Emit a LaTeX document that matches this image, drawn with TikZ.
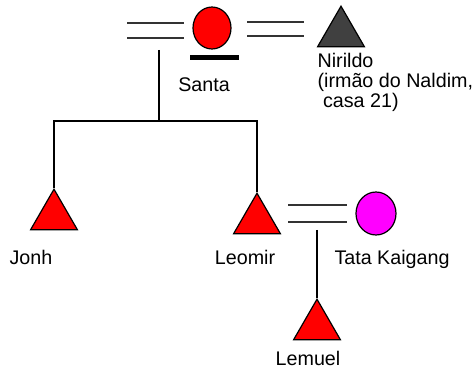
\documentclass[tikz,border=0pt]{standalone}
\usepackage{fontspec}
\setmainfont{Liberation Sans}
\usepackage{tikz}
\usetikzlibrary{shapes.geometric}
\definecolor{pink}{RGB}{255,0,255}
\definecolor{darkfill}{RGB}{64,64,64}

\begin{document}
\begin{tikzpicture}[
            x = 1pt, y = -1pt, % pixel units, y downwards
            line width = 1.2pt, % line style
            font = \fontsize{19.7}{20}\selectfont
        ]
        \tikzstyle{male}=[
            draw = black,
            regular polygon,
            regular polygon sides = 3,
            fill = red,
            minimum size = 54pt,
            inner sep = 0pt,
            anchor = corner 1
        ]
        \tikzstyle{female}=[
            draw = black,
            ellipse,
            inner sep = 0pt
        ]
        \tikzstyle{persname}=[
            inner sep = 0pt,
            anchor = base
        ]
        \tikzstyle{marriage}=[
            draw = black!80,
            line width = 1.6pt
        ]
        \useasboundingbox (0,0) rectangle (476,371);

        % persons
        \node[female, fill = red, minimum width = 38pt, minimum height = 42pt] (santa) at (212,28) {};
        \node[male, fill = darkfill] (nirildo) at (341,5) {};
        \node[male] (jonh) at (54,188) {};
        \node[male] (leomir) at (257,192) {};
        \node[female, fill = pink, minimum width = 40pt, minimum height = 43pt] (tata) at (376,213.5) {};
        \node[male] (lemuel) at (317,298) {};

        % names
        \node[persname] (santaname) at (204,92) {Santa};
        \node[persname, anchor = north west, align = left] (nirildoname) at (317,52.5)
            {Nirildo\\(irmão do Naldim,\\\ casa 21)};
        \node[persname] (jonhname) at (31,265) {Jonh};
        \node[persname] (leomirname) at (245,265) {Leomir};
        \node[persname] (tataname) at (392,265) {Tata Kaigang};
        \node[persname] (lemuelname) at (308,365) {Lemuel};

        % marriage lines
        \coordinate (ma) at (127,23);
        \coordinate (mb) at (184,23);
        \coordinate (mc) at (127,38);
        \coordinate (md) at (184,38);
        \coordinate (me) at (247,22);
        \coordinate (mf) at (304,22);
        \coordinate (mg) at (247,36);
        \coordinate (mh) at (304,36);
        \coordinate (mi) at (288,205);
        \coordinate (mj) at (347,205);
        \coordinate (mk) at (288,222);
        \coordinate (ml) at (347,222);
        \path[marriage] (ma) -- (mb) (mc) -- (md) (me) -- (mf) (mg) -- (mh)
            (mi) -- (mj) (mk) -- (ml);

        % Santa's mourning bar
        \coordinate (ba) at (190,58);
        \coordinate (bb) at (239,58);
        \draw[line width = 5pt] (ba) -- (bb);

        % descent
        \coordinate (top) at (159,50);
        \coordinate (fork) at (159,121);
        \coordinate (child) at (317,230);
        \draw (top) -- (fork);
        \draw (fork) -| (jonh.corner 1);
        \draw (fork) -| (leomir.corner 1);
        \draw (child) -- (lemuel.corner 1);
    \end{tikzpicture}
\end{document}
